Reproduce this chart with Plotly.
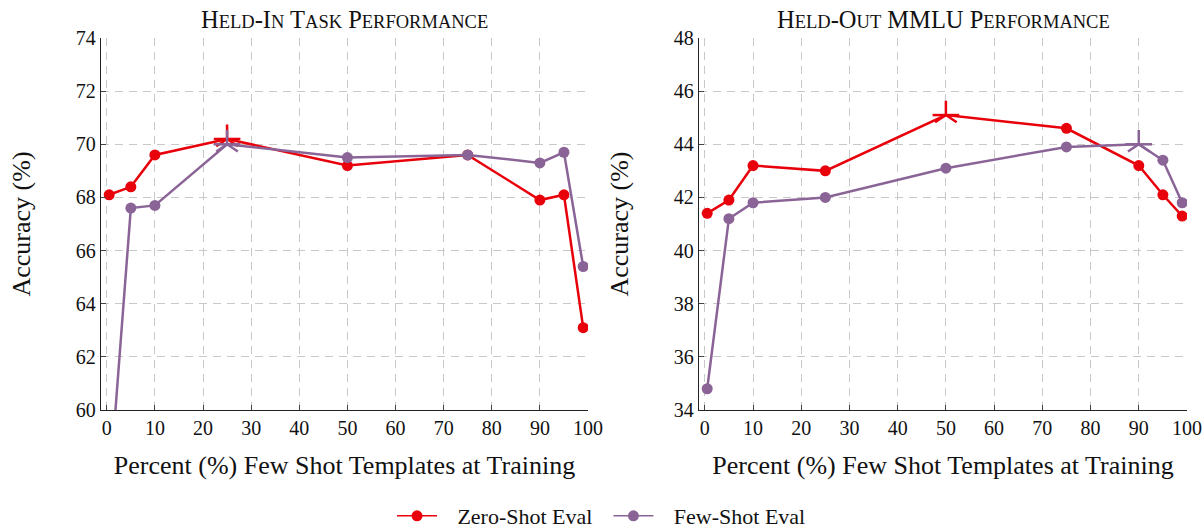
import plotly.graph_objects as go
import numpy as np

# ---- data ----
pct_templates = [0.5, 5, 10, 25, 50, 75, 90, 95, 99]
heldin_zero = [68.1, 68.4, 69.6, 70.2, 69.2, 69.6, 67.9, 68.1, 63.1]
heldin_few = [56.9, 67.6, 67.7, 70.0, 69.5, 69.6, 69.3, 69.7, 65.4]
mmlu_zero = [41.4, 41.9, 43.2, 43.0, 45.1, 44.6, 43.2, 42.1, 41.3]
mmlu_few = [34.8, 41.2, 41.8, 42.0, 43.1, 43.9, 44.0, 43.4, 41.8]

x_ticks = list(range(0, 101, 10))
yticks_left = list(range(60, 75, 2))
yticks_right = list(range(34, 49, 2))

titles = ["Held-In Task Performance", "Held-Out MMLU Performance"]
series_names = ["Zero-Shot Eval", "Few-Shot Eval"]

RED = "#e8000b"
PURPLE = "#8a6496"
FONT = "Liberation Serif, Times New Roman, serif"


def small_caps(text, small=18.5):
    out = []
    buf = ""
    for ch in text:
        if ch.islower():
            buf += ch.upper()
        else:
            if buf:
                out.append(f"<span style='font-size:{small}px'>{buf}</span>")
                buf = ""
            out.append(ch)
    if buf:
        out.append(f"<span style='font-size:{small}px'>{buf}</span>")
    return "".join(out)


fig = go.Figure()

panels = [
    ("x", "y", heldin_zero, heldin_few),
    ("x2", "y2", mmlu_zero, mmlu_few),
]

for xa, ya, zero, few in panels:
    for vals, color in ((zero, RED), (few, PURPLE)):
        best = int(np.argmax(vals))
        sizes = [0 if i == best else 11 for i in range(len(vals))]
        fig.add_trace(go.Scatter(
            x=pct_templates, y=vals, mode="lines+markers", xaxis=xa, yaxis=ya,
            line=dict(color=color, width=2.5),
            marker=dict(color=color, size=sizes, symbol="circle", opacity=1,
                        line=dict(width=0)),
            showlegend=False, hoverinfo="x+y"))
        for sym, sz in (("y-up-open", 18), ("line-ew-open", 19)):
            fig.add_trace(go.Scatter(
                x=[pct_templates[best]], y=[vals[best]], mode="markers",
                xaxis=xa, yaxis=ya,
                marker=dict(symbol=sym, size=sz, opacity=1,
                            color=color, line=dict(color=color, width=2.5)),
                showlegend=False, hoverinfo="skip"))

# legend entries
legend_suffix = ["\u2002", ""]
for name, color, suf in zip(series_names, (RED, PURPLE), legend_suffix):
    fig.add_trace(go.Scatter(
        x=[None], y=[None], mode="lines+markers", name="\u2002\u2009" + name + suf,
        line=dict(color=color, width=1.5),
        marker=dict(color=color, size=11, line=dict(width=0))))

axis_common = dict(
    showgrid=True, gridcolor="#c8c8c8", griddash="8px,6px", gridwidth=1,
    showline=True, linecolor="#222222", linewidth=1.3,
    ticks="inside", ticklen=5, tickcolor="#444444", tickwidth=1,
    tickfont=dict(family=FONT, size=20, color="#111111"),
    zeroline=False, automargin=False,
)

xtitle = dict(text="Percent (%) Few Shot Templates at Training",
              font=dict(family=FONT, size=26), standoff=17)
ytitle = dict(text="Accuracy (%)", font=dict(family=FONT, size=26), standoff=37)

fig.update_layout(
    width=1203, height=531,
    margin=dict(l=0, r=0, t=0, b=0, autoexpand=False),
    paper_bgcolor="white", plot_bgcolor="white",
    font=dict(family=FONT, color="#111111"),
    xaxis=dict(domain=[101 / 1203, 588 / 1203], range=[-1.2, 100], tickvals=x_ticks,
               title=xtitle, anchor="y", **axis_common),
    yaxis=dict(domain=[1 - 410 / 531, 1 - 38 / 531], range=[60, 74], tickvals=yticks_left,
               title=ytitle, anchor="x", **axis_common),
    xaxis2=dict(domain=[699 / 1203, 1187 / 1203], range=[-1.2, 100], tickvals=x_ticks,
                title=xtitle, anchor="y2", **axis_common),
    yaxis2=dict(domain=[1 - 410 / 531, 1 - 38 / 531], range=[34, 48], tickvals=yticks_right,
                title=ytitle, anchor="x2", **axis_common),
    legend=dict(orientation="h", x=0.5, xanchor="center", y=1 - 516 / 531, yanchor="middle",
                font=dict(family=FONT, size=22), itemwidth=40,
                bgcolor="rgba(0,0,0,0)"),
    showlegend=True,
)

for i, t in enumerate(titles):
    dom = fig.layout["xaxis" if i == 0 else "xaxis2"].domain
    fig.add_annotation(
        text=small_caps(t), x=(dom[0] + dom[1]) / 2, y=1 - 20 / 531,
        xref="paper", yref="paper", showarrow=False, xanchor="center", yanchor="middle",
        font=dict(family=FONT, size=24.5, color="#111111"))

fig.write_html("out.html", config={"displayModeBar": False},
               post_script="document.body.style.margin='0px';")
